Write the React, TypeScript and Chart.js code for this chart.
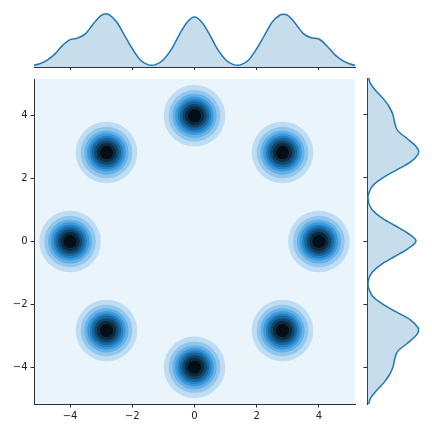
import { useEffect, useRef } from "react";
import { Chart, registerables } from "chart.js";
Chart.register(...registerables);

// Centres of the eight density blobs (data units)
const centerX = [4, 2.83, 0, -2.83, -4, -2.83, 0, 2.83];
const centerY = [0, 2.83, 4, 2.83, 0, -2.83, -4, -2.83];

// Filled contour levels: radius (data units) of each level boundary and its colour
const levelRadii = [0.99, 0.83, 0.71, 0.62, 0.54, 0.47, 0.39, 0.31, 0.21];
const levelColors = [
  "#beddf4",
  "#92c7ed",
  "#67b0e5",
  "#3b9add",
  "#2281c4",
  "#1a6498",
  "#12476d",
  "#0c2b41",
  "#040e16",
];
const lowestLevelColor = "#e9f4fb";

const axisTicks = [-4, -2, 0, 2, 4];

// Marginal KDE curves (relative density)
const margPos = [
  -5.5, -5.25, -5, -4.75, -4.5, -4.25, -4, -3.75, -3.5, -3.25, -3, -2.85, -2.75, -2.5, -2.25, -2, -1.75, -1.5,
  -1.4, -1.25, -1, -0.75, -0.5, -0.25, 0, 0.25, 0.5, 0.75, 1, 1.25, 1.4, 1.5, 1.75, 2, 2.25, 2.5, 2.75, 2.85, 3,
  3.25, 3.5, 3.75, 4, 4.25, 4.5, 4.75, 5, 5.25, 5.5,
];
const topDensity = [
  2, 4, 9, 20, 38, 64, 82, 87, 100, 130, 155, 160, 157, 135, 95, 55, 22, 7, 5, 7, 22, 52, 95, 133, 150, 133, 95, 52,
  22, 7, 5, 7, 22, 55, 95, 135, 156, 158, 155, 130, 100, 88, 84, 64, 38, 20, 9, 4, 2,
];
const rightDensity = [
  1, 4, 10, 28, 50, 67, 78, 83, 92, 120, 147, 155, 153, 130, 88, 47, 17, 5, 3, 4, 15, 42, 82, 122, 147, 122, 82, 42,
  15, 4, 3, 5, 17, 47, 88, 130, 153, 155, 147, 120, 92, 83, 78, 67, 50, 28, 10, 4, 1,
];
const densityMax = 192;

const X_MIN = -5.16;
const X_MAX = 5.16;
const Y_MIN = -5.17;
const Y_MAX = 5.17;

const AXIS_COLOR = "#333333";
const TEXT_COLOR = "#222222";
const LINE_COLOR = "#1f77b4";
const FILL_COLOR = "rgba(31,119,180,0.25)";

const fmt = (v: number | string) => {
  const n = Number(v);
  return n < 0 ? "\u2212" + Math.abs(n) : String(n);
};

const setTicks = (s: any) => {
  s.ticks = axisTicks.map((v) => ({ value: v }));
};

const gridOpts = {
  display: true,
  drawOnChartArea: false,
  drawTicks: true,
  tickLength: 3.5,
  color: AXIS_COLOR,
  lineWidth: 1,
};
const borderOpts = { display: true, color: AXIS_COLOR, width: 1 };

const bgPlugin = {
  id: "lowestLevel",
  beforeDraw(chart: any) {
    const { ctx, chartArea } = chart;
    ctx.save();
    ctx.fillStyle = lowestLevelColor;
    ctx.fillRect(chartArea.left, chartArea.top, chartArea.right - chartArea.left, chartArea.bottom - chartArea.top);
    ctx.restore();
  },
};

export default function App() {
  const mainRef = useRef<HTMLCanvasElement>(null);
  const topRef = useRef<HTMLCanvasElement>(null);
  const rightRef = useRef<HTMLCanvasElement>(null);

  useEffect(() => {
    Chart.defaults.font.family = "DejaVu Sans";
    Chart.defaults.font.size = 10;
    Chart.defaults.color = TEXT_COLOR;

    const radiusFor = (r: number) => (c: any) => {
      const s = c.chart.scales.x;
      return Math.abs(s.getPixelForValue(r) - s.getPixelForValue(0));
    };

    const main = new Chart(mainRef.current!, {
      type: "scatter",
      data: {
        datasets: levelRadii.map((r, i) => ({
          data: centerX.map((x, k) => ({ x, y: centerY[k] })),
          order: -i,
          backgroundColor: levelColors[i],
          pointBackgroundColor: levelColors[i],
          pointBorderWidth: 0,
          borderWidth: 0,
          pointRadius: radiusFor(r),
          pointHoverRadius: radiusFor(r),
        })),
      },
      options: {
        animation: false,
        responsive: false,
        maintainAspectRatio: false,
        events: [],
        layout: { padding: { left: 0, top: 8, right: 5, bottom: 0 } },
        plugins: { legend: { display: false }, tooltip: { enabled: false } },
        scales: {
          x: {
            type: "linear",
            min: X_MIN,
            max: X_MAX,
            afterBuildTicks: setTicks,
            afterFit: (s: any) => {
              s.height = 28;
            },
            grid: gridOpts,
            border: borderOpts,
            ticks: { padding: 3, color: TEXT_COLOR, callback: fmt, maxRotation: 0, autoSkip: false },
          },
          y: {
            type: "linear",
            min: Y_MIN,
            max: Y_MAX,
            afterBuildTicks: setTicks,
            afterFit: (s: any) => {
              s.width = 34;
            },
            grid: gridOpts,
            border: borderOpts,
            ticks: { padding: 3, color: TEXT_COLOR, callback: fmt, autoSkip: false },
          },
        },
      } as any,
      plugins: [bgPlugin],
    });

    const top = new Chart(topRef.current!, {
      type: "line",
      data: {
        datasets: [
          {
            data: margPos.map((x, i) => ({ x, y: topDensity[i] })),
            borderColor: LINE_COLOR,
            backgroundColor: FILL_COLOR,
            borderWidth: 1.5,
            fill: "origin",
            pointRadius: 0,
            cubicInterpolationMode: "monotone",
          },
        ],
      },
      options: {
        animation: false,
        responsive: false,
        maintainAspectRatio: false,
        events: [],
        layout: { padding: { left: 34, top: 3, right: 5, bottom: 0 } },
        plugins: { legend: { display: false }, tooltip: { enabled: false } },
        scales: {
          x: {
            type: "linear",
            min: X_MIN,
            max: X_MAX,
            afterBuildTicks: setTicks,
            afterFit: (s: any) => {
              s.height = 3;
            },
            grid: gridOpts,
            border: borderOpts,
            ticks: { display: false },
          },
          y: { type: "linear", display: false, min: 0, max: densityMax },
        },
      } as any,
    });

    const right = new Chart(rightRef.current!, {
      type: "line",
      data: {
        datasets: [
          {
            data: margPos.map((y, i) => ({ x: rightDensity[i], y })),
            borderColor: LINE_COLOR,
            backgroundColor: FILL_COLOR,
            borderWidth: 1.5,
            fill: "origin",
            pointRadius: 0,
            cubicInterpolationMode: "monotone",
          },
        ],
      },
      options: {
        indexAxis: "y",
        animation: false,
        responsive: false,
        maintainAspectRatio: false,
        events: [],
        layout: { padding: { left: 0, top: 8, right: 1, bottom: 28 } },
        plugins: { legend: { display: false }, tooltip: { enabled: false } },
        scales: {
          y: {
            type: "linear",
            position: "left",
            min: Y_MIN,
            max: Y_MAX,
            afterBuildTicks: setTicks,
            afterFit: (s: any) => {
              s.width = 7;
            },
            grid: gridOpts,
            border: borderOpts,
            ticks: { display: false },
          },
          x: { type: "linear", display: false, min: 0, max: densityMax },
        },
      } as any,
    });

    return () => {
      main.destroy();
      top.destroy();
      right.destroy();
    };
  }, []);

  return (
    <div style={{ position: "absolute", left: 0, top: 0, width: 432, height: 432, background: "#ffffff" }}>
      <canvas
        ref={topRef}
        width={360}
        height={70}
        style={{ position: "absolute", left: 0, top: 0, width: 360, height: 70 }}
      />
      <canvas
        ref={mainRef}
        width={360}
        height={362}
        style={{ position: "absolute", left: 0, top: 70, width: 360, height: 362 }}
      />
      <canvas
        ref={rightRef}
        width={72}
        height={362}
        style={{ position: "absolute", left: 360, top: 70, width: 72, height: 362 }}
      />
    </div>
  );
}
